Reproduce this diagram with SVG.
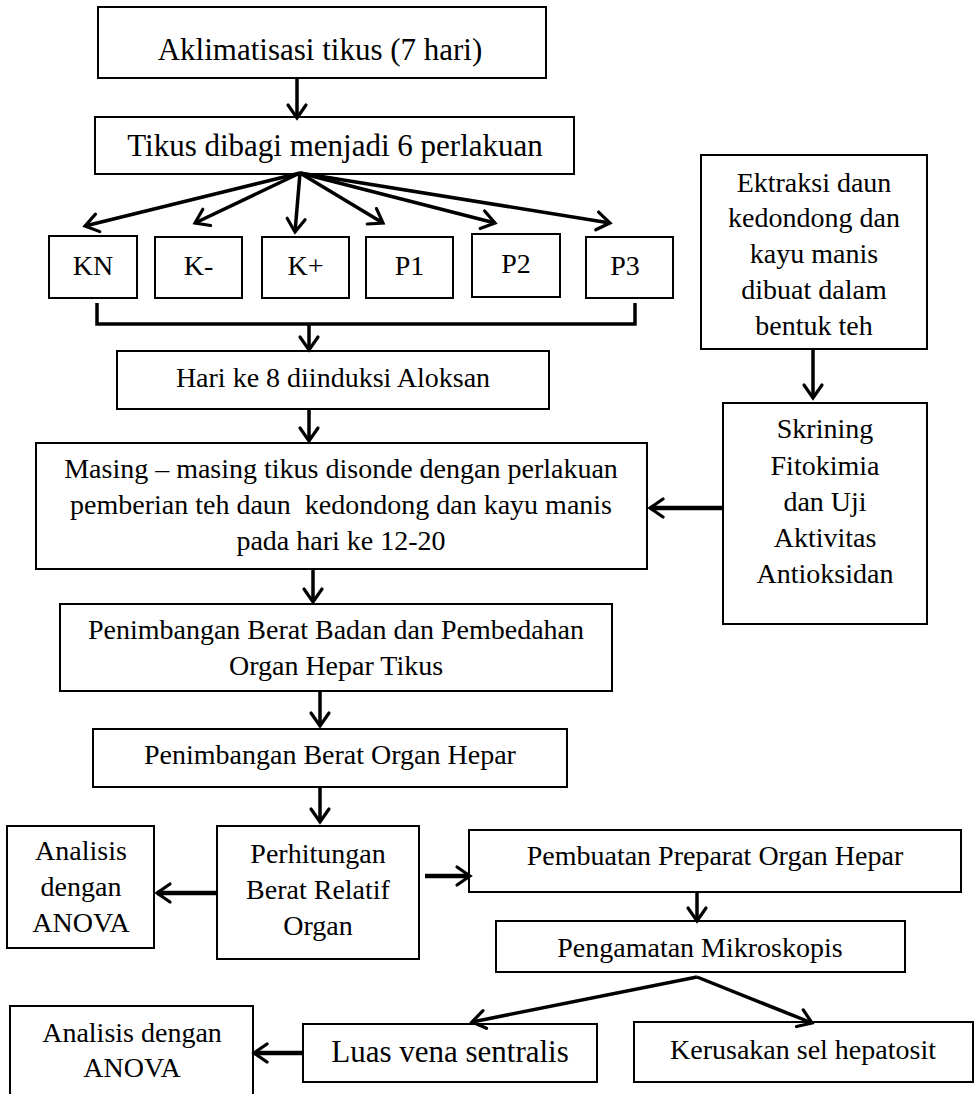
<svg xmlns="http://www.w3.org/2000/svg" width="980" height="1094" viewBox="0 0 980 1094">
<defs>
<marker id="ah" markerUnits="userSpaceOnUse" markerWidth="20" markerHeight="24" viewBox="0 0 20 24" refX="17" refY="12" orient="auto">
<path d="M4,3 L17,12 L4,21" fill="none" stroke="#000" stroke-width="3.2" stroke-linecap="round" stroke-linejoin="miter"/>
</marker>
</defs>
<style>
rect{fill:#fff;stroke:#000;stroke-width:2}
text{font-family:"Liberation Serif","DejaVu Serif",serif;font-size:28px;text-anchor:middle;fill:#000}
.big{font-size:31px}
.c line,.c polyline{stroke:#000;stroke-width:3.5;fill:none}
.c .a{marker-end:url(#ah)}
.c .w{stroke-width:4.5}
</style>
<rect width="980" height="1094" style="fill:#fff;stroke:none"/>
<g id="n-aklimatisasi"><rect x="98" y="7" width="448" height="71"/><text class="big" x="320" y="60">Aklimatisasi tikus (7 hari)</text></g>
<g id="n-tikus"><rect x="95" y="117" width="479" height="57"/><text class="big" x="335" y="156">Tikus dibagi menjadi 6 perlakuan</text></g>
<g id="n-kn"><rect x="49" y="236" width="88" height="62"/><text x="93" y="275">KN</text></g>
<g id="n-kmin"><rect x="155" y="237" width="87" height="61"/><text x="198.5" y="275">K-</text></g>
<g id="n-kplus"><rect x="262" y="237" width="87" height="61"/><text x="305.5" y="275">K+</text></g>
<g id="n-p1"><rect x="366" y="237" width="87" height="61"/><text x="409.5" y="275">P1</text></g>
<g id="n-p2"><rect x="472" y="234" width="88" height="63"/><text x="516" y="273">P2</text></g>
<g id="n-p3"><rect x="586" y="237" width="87" height="61"/><text x="625" y="275">P3</text></g>
<g id="n-ektraksi"><rect x="701" y="155" width="226" height="194"/>
<text x="814" y="192">Ektraksi daun</text><text x="814" y="227">kedondong dan</text><text x="814" y="263">kayu manis</text><text x="814" y="299">dibuat dalam</text><text x="814" y="335">bentuk teh</text></g>
<g id="n-hari"><rect x="117" y="351" width="432" height="58"/><text x="333" y="387">Hari ke 8 diinduksi Aloksan</text></g>
<g id="n-skrining"><rect x="723" y="403" width="204" height="221"/>
<text x="825" y="438">Skrining</text><text x="825" y="475">Fitokimia</text><text x="825" y="511">dan Uji</text><text x="825" y="547">Aktivitas</text><text x="825" y="583">Antioksidan</text></g>
<g id="n-masing"><rect x="36" y="443" width="611" height="126"/>
<text x="341" y="478">Masing – masing tikus disonde dengan perlakuan</text>
<text x="341" y="514" xml:space="preserve">pemberian teh daun  kedondong dan kayu manis</text>
<text x="341" y="550">pada hari ke 12-20</text></g>
<g id="n-penimbangan1"><rect x="60" y="604" width="552" height="87"/>
<text x="336" y="639">Penimbangan Berat Badan dan Pembedahan</text><text x="336" y="675">Organ Hepar Tikus</text></g>
<g id="n-penimbangan2"><rect x="93" y="729" width="474" height="58"/><text x="330" y="764">Penimbangan Berat Organ Hepar</text></g>
<g id="n-analisis1"><rect x="7" y="826" width="147" height="122"/>
<text x="81" y="860">Analisis</text><text x="81" y="896">dengan</text><text x="81" y="932">ANOVA</text></g>
<g id="n-perhitungan"><rect x="217" y="826" width="202" height="133"/>
<text x="318" y="863">Perhitungan</text><text x="318" y="899">Berat Relatif</text><text x="318" y="935">Organ</text></g>
<g id="n-pembuatan"><rect x="469" y="830" width="492" height="62"/><text x="715" y="865">Pembuatan Preparat Organ Hepar</text></g>
<g id="n-pengamatan"><rect x="496" y="921" width="409" height="51"/><text x="700" y="957">Pengamatan Mikroskopis</text></g>
<g id="n-analisis2"><rect x="10" y="1006" width="243" height="100"/>
<text x="132" y="1042">Analisis dengan</text><text x="132" y="1077">ANOVA</text></g>
<g id="n-luas"><rect x="303" y="1024" width="294" height="58"/><text class="big" x="450" y="1062">Luas vena sentralis</text></g>
<g id="n-kerusakan"><rect x="634" y="1022" width="339" height="60"/><text x="803" y="1059">Kerusakan sel hepatosit</text></g>
<g id="connectors" class="c">
<line class="a" x1="297" y1="78" x2="297" y2="118"/>
<line class="a" x1="300" y1="173" x2="85" y2="226"/>
<line class="a" x1="300" y1="173" x2="195" y2="223"/>
<line class="a" x1="300" y1="173" x2="295" y2="232"/>
<line class="a" x1="300" y1="173" x2="383" y2="223"/>
<line class="a" x1="300" y1="173" x2="495" y2="223"/>
<line class="a" x1="300" y1="173" x2="610" y2="223"/>
<polyline points="97,303 97,324 635,324 635,303"/>
<line class="a" x1="309" y1="324" x2="309" y2="350"/>
<line class="a" x1="309" y1="409" x2="309" y2="441"/>
<line class="a" x1="813" y1="349" x2="813" y2="398"/>
<line class="a w" x1="723" y1="508" x2="650" y2="508"/>
<line class="a" x1="313" y1="569" x2="313" y2="602"/>
<line class="a" x1="320" y1="691" x2="320" y2="726"/>
<line class="a" x1="320" y1="787" x2="320" y2="822"/>
<line class="a w" x1="217" y1="893" x2="157" y2="893"/>
<line class="a w" x1="425" y1="876" x2="470" y2="876"/>
<line class="a" x1="697" y1="892" x2="697" y2="921"/>
<line class="a" x1="697" y1="977" x2="472" y2="1022"/>
<line class="a" x1="697" y1="977" x2="812" y2="1023"/>
<line class="a w" x1="303" y1="1053" x2="254" y2="1053"/>
</g>
</svg>
